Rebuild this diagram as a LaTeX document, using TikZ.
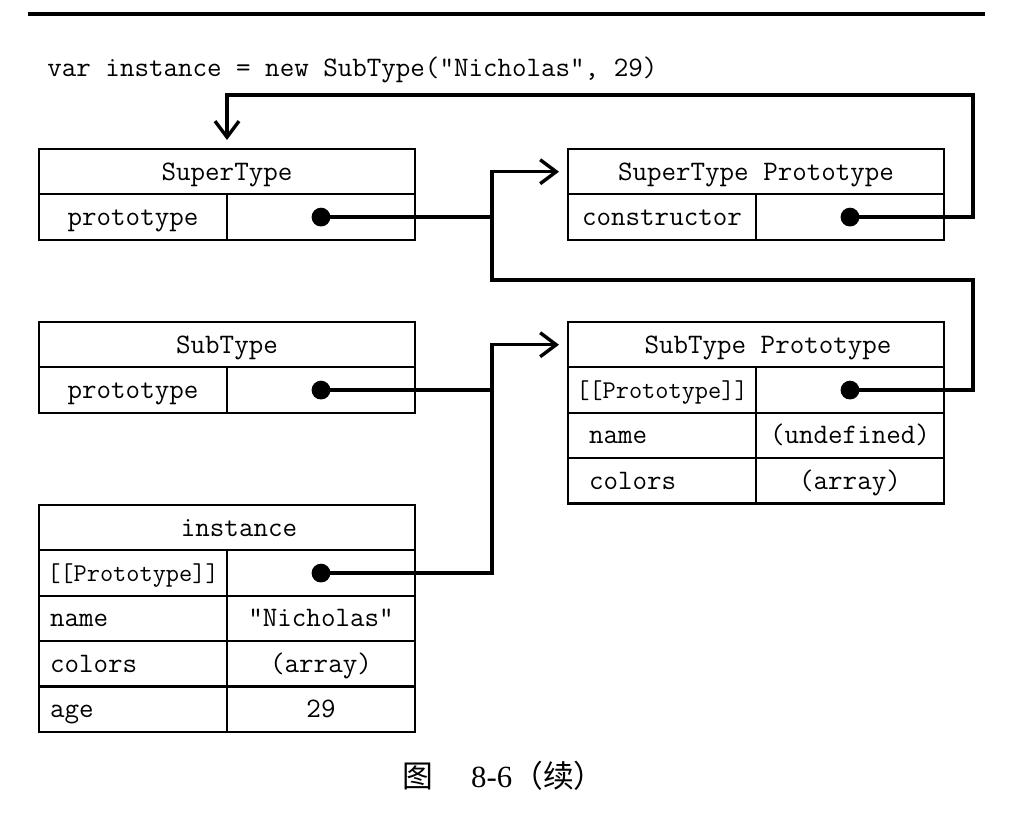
\documentclass[tikz,border=0pt]{standalone}
\usepackage{fontspec}
\newfontfamily\cjk{Noto Sans CJK SC}
\newfontfamily\capserif{Liberation Serif}
\usetikzlibrary{arrows.meta}

\tikzset{
  box/.style={draw, line width=1.1pt, inner sep=0pt, outer sep=0pt,
    text height=9.2pt, text depth=0.8pt,
    font=\ttfamily\fontsize{14.1}{16}\selectfont},
  hdr/.style={box, minimum width=188pt, minimum height=22.7pt, anchor=north west},
  kcell/.style={box, minimum width=94pt, minimum height=22.7pt, anchor=north west},
  vcell/.style={kcell},
  tight/.style={font=\ttfamily\fontsize{12.8}{16}\selectfont},
  ikey/.style={kcell, align=left, inner xsep=5.5pt, text width=83pt},
  pkey/.style={kcell, align=left, inner xsep=10.5pt, text width=73pt},
  link/.style={line width=1.7pt},
  ptr/.style={link, -{Straight Barb[length=8pt,width=12pt]}, shorten >=4.5pt},
  dot/.style={fill=black},
}

\begin{document}
\begin{tikzpicture}[x=0.5pt, y=-0.5pt]
        \useasboundingbox (0,0) rectangle (1019,823);
        \draw[line width=2pt] (28,14) -- (985,14);
        \node[anchor=base west, inner sep=0pt, font=\ttfamily\fontsize{14.1}{16}\selectfont]
          (code) at (47,77) {var instance = new SubType("Nicholas", 29)};
        % the two constructors
        \node[hdr] (st) at (39,149) {SuperType};
        \node[kcell] (stk) at (st.south west) {prototype};
        \node[vcell] (stv) at (stk.north east) {};
        \node[hdr] (sb) at (39,322) {SubType};
        \node[kcell] (sbk) at (sb.south west) {prototype};
        \node[vcell] (sbv) at (sbk.north east) {};
        % the two prototypes
        \node[hdr] (stp) at (568,149) {SuperType Prototype};
        \node[kcell] (stpk) at (stp.south west) {constructor};
        \node[vcell] (stpv) at (stpk.north east) {};
        \node[hdr] (sbp) at (568,322) {\hspace*{12pt}SubType Prototype};
        \node[kcell, tight] (sbpk) at (sbp.south west) {[[Prototype]]};
        \node[vcell] (sbpv) at (sbpk.north east) {};
        \foreach \k/\v [count=\i] in {name/(undefined), colors/(array)} {
          \node[pkey] (sbpk\i) at (568,{322+45.4*(\i+1)}) {\k};
          \node[vcell] (sbpv\i) at (sbpk\i.north east) {\v};
        }
        % the instance
        \node[hdr] (inst) at (39,505) {\hspace*{12pt}instance};
        \node[kcell, tight] (instk) at (inst.south west) {[[Prototype]]};
        \node[vcell] (instv) at (instk.north east) {};
        \foreach \k/\v [count=\i] in {name/"Nicholas", colors/(array), age/29} {
          \node[ikey] (instk\i) at (39,{505+45.4*(\i+1)}) {\k};
          \node[vcell] (instv\i) at (instk\i.north east) {\v};
        }
        % pointers
        \coordinate (lbus) at (492,280);
        \coordinate (rbus) at (973,95);
        \draw[ptr] (stpv.center) -| (rbus) -| (st.north);
        \draw[ptr] (sbpv.center) -| (lbus -| rbus) -| (lbus |- stp.west) -- (stp.west);
        \draw[link] (stv.center) -- (stv.center -| lbus);
        \draw[ptr] (instv.center) -| (lbus |- sbp.west) -- (sbp.west);
        \draw[link] (sbv.center) -- (sbv.center -| lbus);
        \foreach \c in {stv, stpv, sbv, sbpv, instv} {
          \fill[dot] (\c.center) circle[radius=4.7pt];
        }
        \node[font=\fontsize{15.4}{18}\selectfont] (cap) at (503.5,776)
          {{\cjk 图}\hspace{19pt}{\capserif 8-6}{\cjk （续）}};
\end{tikzpicture}
\end{document}
